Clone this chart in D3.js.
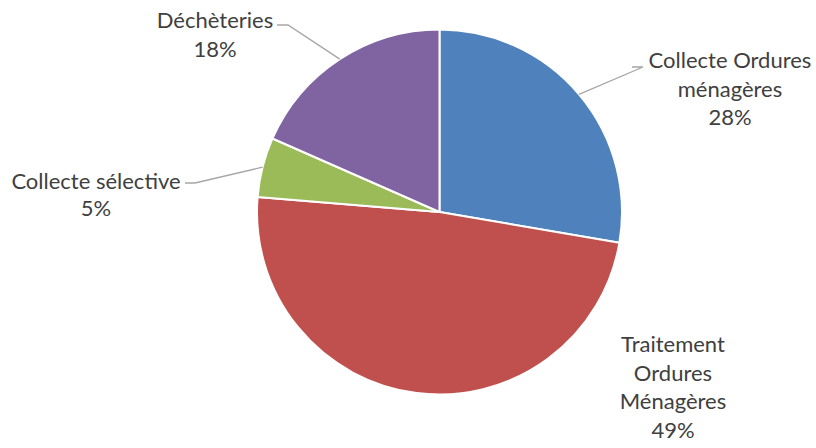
<!DOCTYPE html>
<html>
<head>
<meta charset="utf-8">
<script src="https://cdn.jsdelivr.net/npm/d3@7"></script>
<style>
  html, body { margin: 0; padding: 0; background: #fff; }
  svg text { font-family: Lato, "Open Sans", sans-serif; fill: #404040; }
</style>
</head>
<body>
<div id="chart"></div>
<script>
const categories = ["Collecte Ordures ménagères", "Traitement Ordures Ménagères", "Collecte sélective", "Déchèteries"];
const values = [27.7, 48.6, 5.3, 18.4];
const colors = ["#4F81BD", "#C0504D", "#9BBB59", "#8064A2"];
// label lines as displayed
const labelLines = [
  ["Collecte Ordures", "ménagères"],
  ["Traitement", "Ordures", "Ménagères"],
  ["Collecte sélective"],
  ["Déchèteries"]
];

const width = 816, height = 448;
const cx = 439.5, cy = 212, r = 182.5;

// label layout: text centre x, first baseline y, elbow of leader (null = no leader)
const layout = [
  {x: 730, y: 68, elbow: [643, 67], end: [632, 67]},
  {x: 673, y: 352, elbow: null},
  {x: 96, y: 189, elbow: [195, 183], end: [185, 183]},
  {x: 215, y: 28, elbow: [288, 25], end: [277, 25]}
];

const svg = d3.select('#chart').append('svg')
  .attr('width', width).attr('height', height);

const data = categories.map((c, i) => ({name: c, value: values[i], i}));

const pie = d3.pie().sort(null).value(d => d.value);
const arcs = pie(data);
const arc = d3.arc().innerRadius(0).outerRadius(r);

const g = svg.append('g').attr('transform', `translate(${cx},${cy})`);

g.selectAll('path.slice')
  .data(arcs)
  .enter().append('path')
  .attr('class', 'slice')
  .attr('d', arc)
  .attr('fill', d => colors[d.data.i])
  .attr('stroke', '#fff')
  .attr('stroke-width', 2)
  .attr('stroke-linejoin', 'round');

// leader lines
arcs.forEach((a, i) => {
  const L = layout[i];
  if (!L.elbow) return;
  const mid = (a.startAngle + a.endAngle) / 2;
  const px = cx + r * Math.sin(mid), py = cy - r * Math.cos(mid);
  svg.append('polyline')
    .attr('points', [[px, py], L.elbow, L.end].map(p => p.join(',')).join(' '))
    .attr('fill', 'none')
    .attr('stroke', '#A6A6A6')
    .attr('stroke-width', 1.3);
});

// labels
const lineH = 28.5;
arcs.forEach((a, i) => {
  const L = layout[i];
  const lines = labelLines[i].concat([Math.round(a.data.value) + '%']);
  const t = svg.append('text')
    .attr('text-anchor', 'middle')
    .attr('font-size', 22);
  lines.forEach((s, k) => {
    t.append('tspan').attr('x', L.x).attr('y', L.y + k * (i === 2 ? 27 : lineH)).text(s);
  });
});
</script>
</body>
</html>
